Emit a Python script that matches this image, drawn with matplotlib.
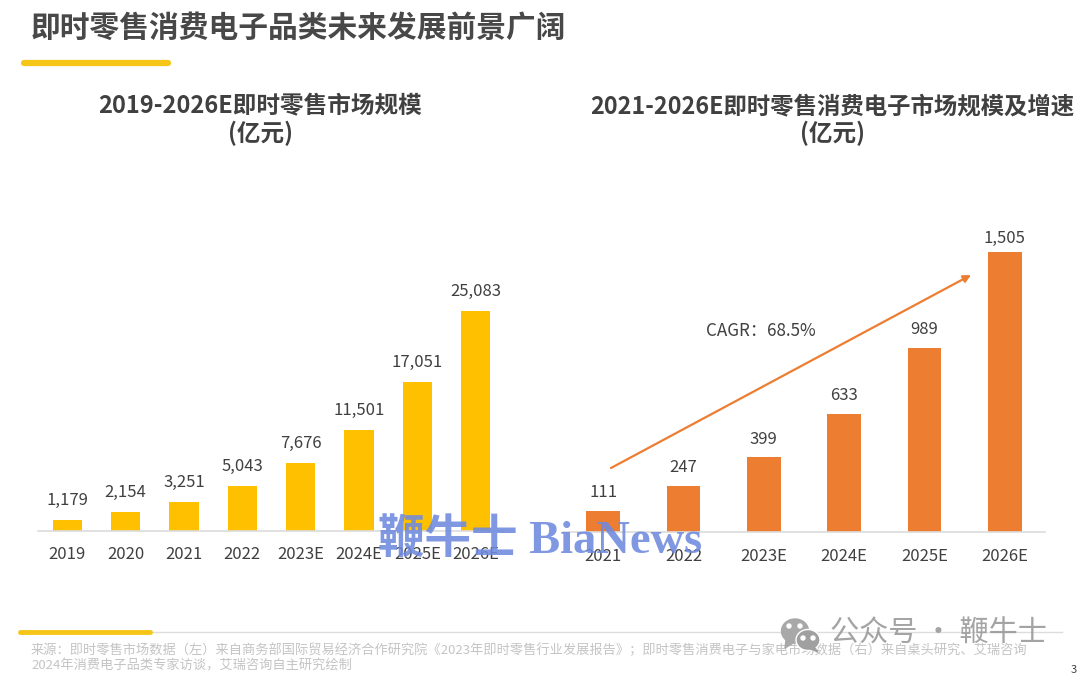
import matplotlib.pyplot as plt
from matplotlib.patches import Ellipse, Polygon

plt.rcParams['font.family'] = ['Noto Sans CJK SC', 'DejaVu Sans']

left_years = ["2019", "2020", "2021", "2022", "2023E", "2024E", "2025E", "2026E"]
left_values = [1179, 2154, 3251, 5043, 7676, 11501, 17051, 25083]

right_years = ["2021", "2022", "2023E", "2024E", "2025E", "2026E"]
right_values = [111, 247, 399, 633, 989, 1505]

W, H = 1080, 677
DARK = "#404040"
GREY = "#c4c4c4"

fig = plt.figure(figsize=(W / 100, H / 100), dpi=100, facecolor="white")


def bar_axes(x0, x1, base_y, height, pad):
    ax = fig.add_axes([x0 / W, (H - base_y) / H, (x1 - x0) / W, height / H])
    ax.patch.set_alpha(0)
    for s in ["top", "left", "right"]:
        ax.spines[s].set_visible(False)
    ax.spines["bottom"].set_color("#dcdcdc")
    ax.spines["bottom"].set_linewidth(1.2)
    ax.set_yticks([])
    ax.tick_params(axis="x", length=0, labelsize=12, labelcolor=DARK, pad=pad)
    return ax


# left chart
ax1 = bar_axes(38, 505, 530.5, 296.9, 11)
ax1.bar(left_years, left_values, width=0.5, color="#ffc000")
ax1.set_xlim(-0.5, 7.5)
ax1.set_ylim(0, 34000)
for i, v in enumerate(left_values):
    ax1.annotate(f"{v:,}", (i, v), xytext=(0, 8), textcoords="offset points",
                 ha="center", va="bottom", fontsize=12, color=DARK)

# right chart
ax2 = bar_axes(563, 1045, 531.5, 315.7, 12)
ax2.bar(right_years, right_values, width=0.42, color="#ed7d31")
ax2.set_xlim(-0.5, 5.5)
ax2.set_ylim(0, 1700)
for i, v in enumerate(right_values):
    # top label sits closer to its bar in the original
    off = 3.5 if v == max(right_values) else 7
    ax2.annotate(f"{v:,}", (i, v), xytext=(0, off), textcoords="offset points",
                 ha="center", va="bottom", fontsize=12, color=DARK)

# everything else is placed in pixel coordinates on an overlay
ov = fig.add_axes([0, 0, 1, 1], zorder=5)
ov.set_xlim(0, W)
ov.set_ylim(H, 0)
ov.axis("off")

ov.text(31, 28, "即时零售消费电子品类未来发展前景广阔", fontsize=21.4, fontweight="bold",
        color="#484848", ha="left", va="center")
ov.plot([24, 168], [62.5, 62.5], color="#f5c518", lw=4.5, solid_capstyle="round")

ov.text(260, 106, "2019-2026E即时零售市场规模", fontsize=17, fontweight="bold",
        color=DARK, ha="center", va="center")
ov.text(260, 133, "(亿元)", fontsize=17, fontweight="bold", color=DARK, ha="center", va="center")
ov.text(832, 106, "2021-2026E即时零售消费电子市场规模及增速", fontsize=16.85, fontweight="bold",
        color=DARK, ha="center", va="center")
ov.text(832, 133, "(亿元)", fontsize=17, fontweight="bold", color=DARK, ha="center", va="center")

ov.annotate("", xy=(971, 275), xytext=(611, 468),
            arrowprops=dict(arrowstyle="-|>", color="#ed7d31", lw=1.6, mutation_scale=11,
                            shrinkA=0, shrinkB=0))
ov.text(706, 331, "CAGR：68.5%", fontsize=12.3, color=DARK, ha="left", va="center")

# footer
ov.plot([150, 1062], [631.5, 631.5], color="#dddddd", lw=1)
ov.plot([20, 150], [631.5, 631.5], color="#f5c518", lw=3.5, solid_capstyle="round")
ov.text(31, 650, "来源：即时零售市场数据（左）来自商务部国际贸易经济合作研究院《2023年即时零售行业发展报告》；"
        "即时零售消费电子与家电市场数据（右）来自桌头研究、艾瑞咨询",
        fontsize=9.5, color=GREY, ha="left", va="center")
ov.text(31, 666, "2024年消费电子品类专家访谈，艾瑞咨询自主研究绘制", fontsize=9.5, color=GREY,
        ha="left", va="center")
ov.text(1071, 670, "3", fontsize=8, color=DARK, ha="left", va="center")

# watermarks
ov.text(378, 541, "鞭牛士 BiaNews", fontsize=33.5, color="#6f8ade", alpha=0.88,
        family=["Liberation Serif", "Noto Sans CJK SC"], fontweight="bold",
        ha="left", va="center")
ov.add_patch(Ellipse((795, 631), 27, 24, color="#a8a8a8", zorder=6))
ov.add_patch(Polygon([(786, 640), (785, 648), (795, 642)], color="#a8a8a8", zorder=6))
ov.add_patch(Ellipse((808, 640), 24, 21, color="#a0a0a0", ec="white", lw=1, zorder=7))
ov.add_patch(Polygon([(814, 647), (818, 652), (808, 648)], color="#a0a0a0", zorder=7))
for x, y in [(789, 626), (800, 626), (803, 638), (813, 638)]:
    ov.add_patch(Ellipse((x, y), 4, 4, color="white", zorder=8))
ov.text(830, 634, "公众号 · 鞭牛士", fontsize=21, color="#9a9a9a", alpha=0.9,
        ha="left", va="center", zorder=8)

fig.savefig("out.png", dpi=100)
